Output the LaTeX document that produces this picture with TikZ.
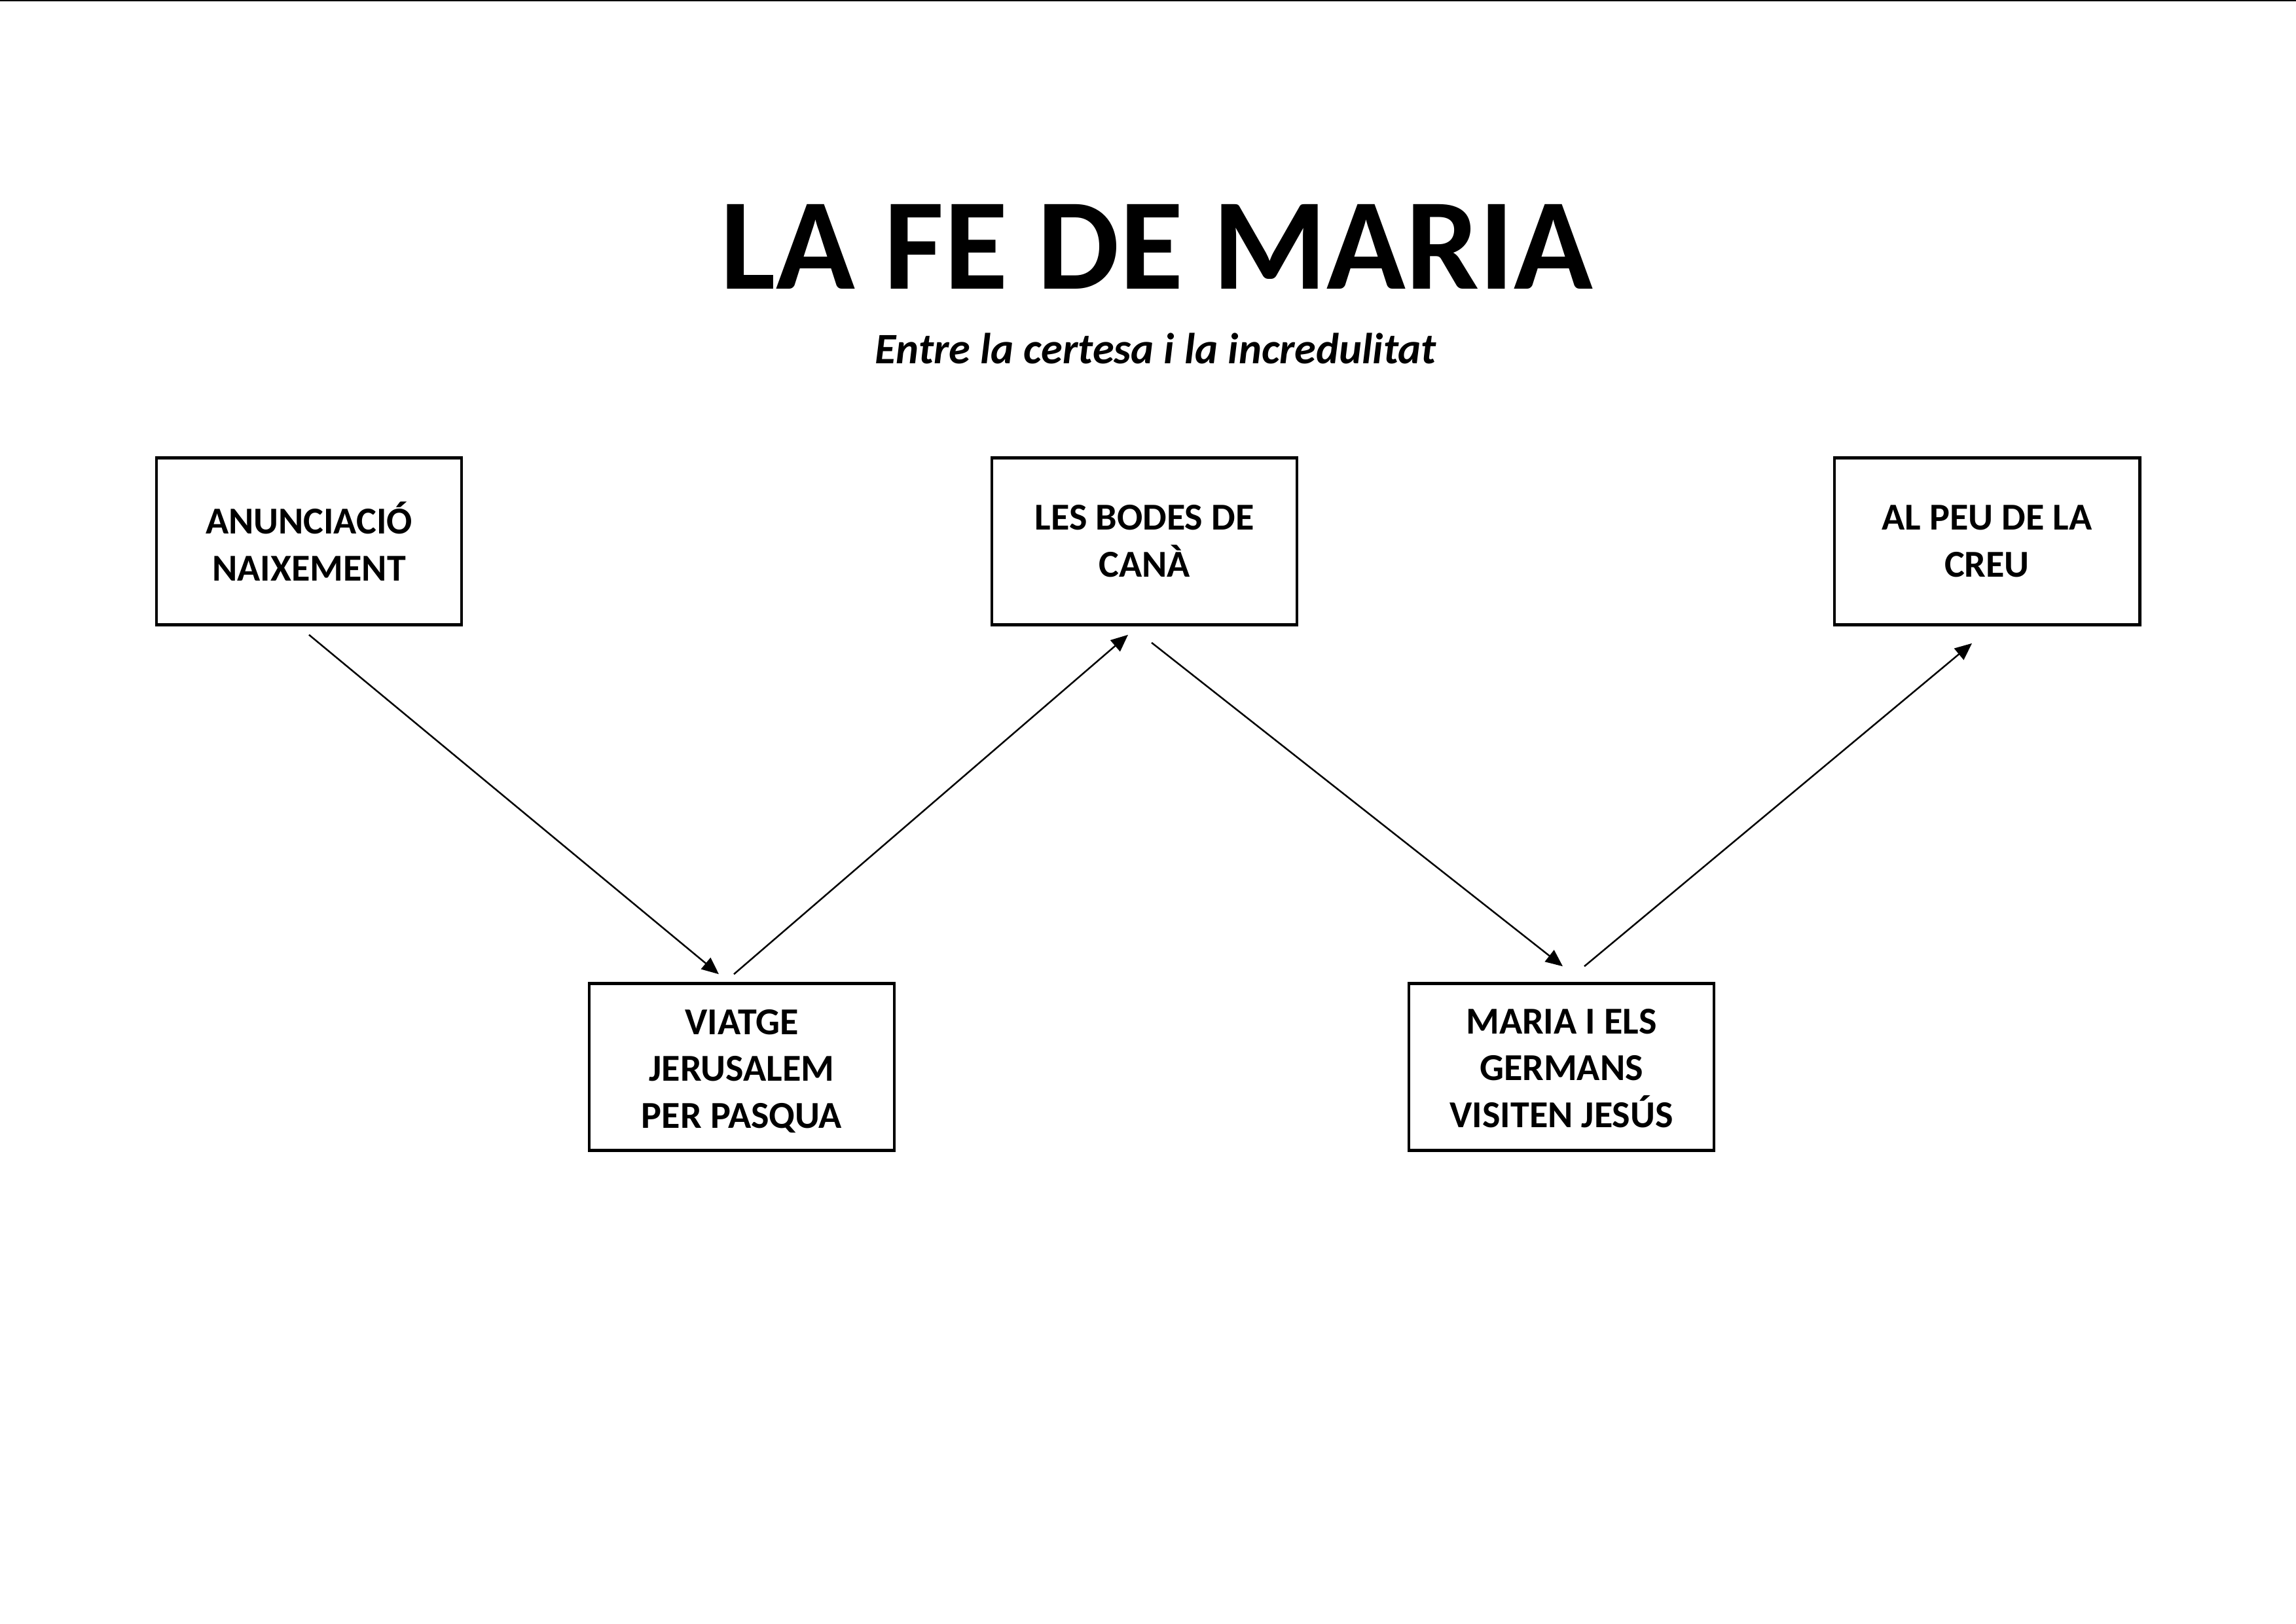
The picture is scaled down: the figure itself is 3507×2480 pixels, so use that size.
\documentclass[tikz,border=0pt]{standalone}
\usepackage{fontspec}
\setmainfont{Carlito}
\usetikzlibrary{arrows.meta,calc}
\begin{document}
\begin{tikzpicture}[x=0.084688mm,y=-0.084688mm,
  stepbox/.style={draw,line width=1.08pt,minimum width=39.5mm,minimum height=21.6mm,
    inner sep=0pt,align=center,font=\bfseries\fontsize{14}{17.3}\selectfont},
  conn/.style={line width=0.6pt,-{Triangle[length=2.2mm,width=1.9mm]}}]
\useasboundingbox (0,0) rectangle (3507,2480);
\fill[white] (0,0) rectangle (3507,2480);
\draw[line width=0.6pt] (0,1) -- (3507,1);
\node[font=\bfseries\fontsize{48}{56}\selectfont,anchor=base] (title) at (1767,441) {LA FE DE MARIA};
\node[font=\bfseries\itshape\fontsize{16}{19}\selectfont,anchor=base] (sub) at (1765,555) {Entre la certesa i la incredulitat};
\node[stepbox] (b1) at (472,827) {ANUNCIACIÓ\\NAIXEMENT};
\node[stepbox] (b2) at (1748,827) {LES BODES DE\\CANÀ};
\node[stepbox] (b3) at (3035,827) {AL PEU DE LA\\CREU};
\node[stepbox] (b4) at (1133,1630) {\rule{0pt}{12.3pt}VIATGE\\JERUSALEM\\PER PASQUA};
\node[stepbox] (b5) at (2385,1630) {\rule{0pt}{10.2pt}MARIA I ELS\\GERMANS\\VISITEN JESÚS};
\draw[conn] ($(b1.south)+(0,13)$) -- ($(b4.north)+(-35,-12)$);
\draw[conn] ($(b4.north)+(-12,-12)$) -- ($(b2.south)+(-25,13)$);
\draw[conn] ($(b2.south)+(11,25)$) -- ($(b5.north)+(2,-24)$);
\draw[conn] ($(b5.north)+(35,-24)$) -- ($(b3.south)+(-23,26)$);
\end{tikzpicture}
\end{document}
